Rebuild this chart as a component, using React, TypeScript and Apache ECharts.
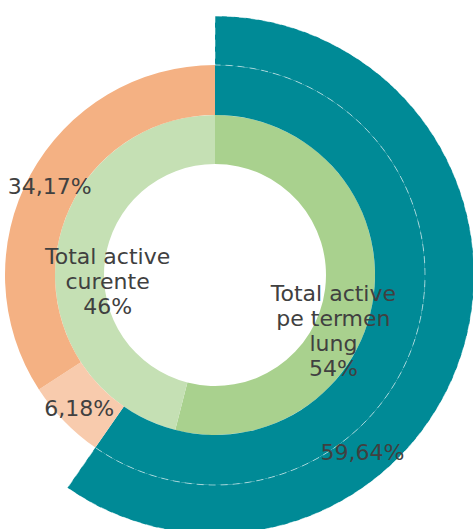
import React, { useEffect, useRef } from "react";
import * as echarts from "echarts";

const innerCategories = ["Total active pe termen lung", "Total active curente"];
const innerLabelTexts = ["Total active\npe termen\nlung", "Total active\ncurente"];
const innerValues = [54, 46];
const innerColors = ["#A9D18E", "#C5E0B4"];

const outerCategories = ["Active pe termen lung", "Active curente 1", "Active curente 2"];
const outerValues = [59.64, 6.18, 34.17];
const outerColors = ["#008A96", "#F8CBAD", "#F4B183"];

// label nudges (pixels) relative to ECharts' default inside position
const innerLabelShift = [[-19, 39], [30, 24]];
const outerLabelShift = [[-32, 121], [-1, 3], [0, 1]];

const CENTER = [215, 275];
const FONT = "'DejaVu Sans', Verdana, sans-serif";

export default function App() {
  const ref = useRef<HTMLDivElement>(null);
  useEffect(() => {
    if (!ref.current) return;
    const chart = echarts.init(ref.current, undefined, { renderer: "svg" });
    const labelStyle = {
      show: true,
      position: "inside" as const,
      color: "#404040",
      fontFamily: FONT,
      fontSize: 22,
      lineHeight: 25,
    };
    chart.setOption({
      animation: false,
      series: [
        {
          type: "pie",
          center: CENTER,
          radius: [111, 160],
          startAngle: 90,
          clockwise: true,
          avoidLabelOverlap: false,
          silent: true,
          itemStyle: { borderWidth: 0 },
          label: {
            ...labelStyle,
            formatter: (p: any) => `${innerLabelTexts[p.dataIndex]}\n${p.value}%`,
          },
          labelLine: { show: false },
          labelLayout: (p: any) => ({
            dx: innerLabelShift[p.dataIndex][0],
            dy: innerLabelShift[p.dataIndex][1],
          }),
          data: innerValues.map((v, i) => ({
            name: innerCategories[i],
            value: v,
            itemStyle: { color: innerColors[i] },
          })),
        },
        {
          type: "pie",
          center: CENTER,
          radius: [160, 210],
          startAngle: 90,
          clockwise: true,
          avoidLabelOverlap: false,
          silent: true,
          itemStyle: { borderWidth: 0 },
          label: {
            ...labelStyle,
            formatter: (p: any) => `${Number(p.value).toFixed(2).replace(".", ",")}%`,
          },
          labelLine: { show: false },
          labelLayout: (p: any) => ({
            dx: outerLabelShift[p.dataIndex][0],
            dy: outerLabelShift[p.dataIndex][1],
          }),
          data: outerValues.map((v, i) => ({
            name: outerCategories[i],
            value: v,
            itemStyle: { color: outerColors[i] },
          })),
        },
        {
          type: "pie",
          center: CENTER,
          radius: [210, 259],
          startAngle: 90,
          clockwise: true,
          silent: true,
          label: { show: false },
          labelLine: { show: false },
          data: outerValues.map((v, i) => ({
            name: outerCategories[i] + " ext",
            value: v,
            itemStyle:
              i === 0
                ? {
                    color: outerColors[0],
                    borderColor: "rgba(255,255,255,0.55)",
                    borderWidth: 1,
                    borderType: [7, 5],
                  }
                : { color: "rgba(0,0,0,0)", borderWidth: 0 },
          })),
        },
      ],
    });
    return () => chart.dispose();
  }, []);
  return (
    <div
      ref={ref}
      style={{ position: "absolute", left: 0, top: 0, width: 473, height: 529 }}
    />
  );
}
